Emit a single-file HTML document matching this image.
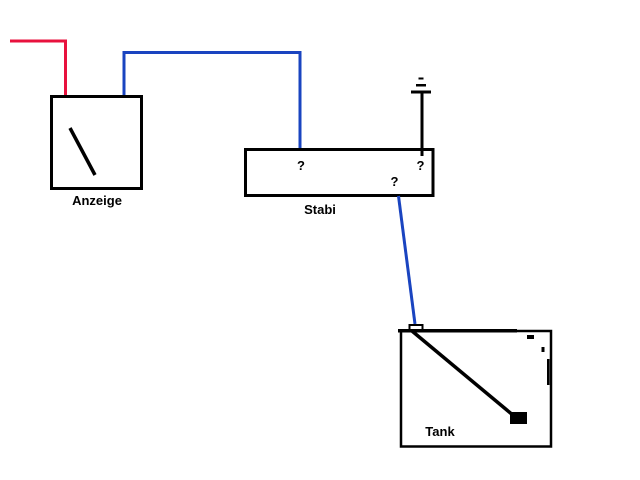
<!DOCTYPE html>
<html><head><meta charset="utf-8"><style>
html,body{margin:0;padding:0;background:#fff;}
svg{display:block;}
text{font-family:"Liberation Sans",Arial,sans-serif;font-weight:bold;font-size:13px;fill:#000;}
</style></head><body>
<svg width="640" height="480" viewBox="0 0 640 480" xmlns="http://www.w3.org/2000/svg">
<rect width="640" height="480" fill="#fff"/>
<!-- red wire -->
<polyline points="10,41 65.5,41 65.5,95" fill="none" stroke="#e8123e" stroke-width="3"/>
<!-- blue wire top -->
<polyline points="124,95 124,52.5 300,52.5 300,148" fill="none" stroke="#1a44c0" stroke-width="3"/>
<!-- Anzeige box -->
<rect x="51.5" y="96.5" width="90" height="92" fill="none" stroke="#000" stroke-width="3"/>
<line x1="70" y1="128" x2="95" y2="175" stroke="#000" stroke-width="3.5"/>
<text x="97" y="205" text-anchor="middle">Anzeige</text>
<!-- Stabi box -->
<rect x="245.5" y="149.5" width="187.5" height="46" fill="none" stroke="#000" stroke-width="3"/>
<text x="301" y="170" text-anchor="middle">?</text>
<text x="420.5" y="170" text-anchor="middle">?</text>
<text x="394.5" y="186" text-anchor="middle">?</text>
<text x="320" y="214" text-anchor="middle">Stabi</text>
<!-- antenna / ground symbol -->
<line x1="422" y1="91" x2="422" y2="156" stroke="#000" stroke-width="3"/>
<rect x="411" y="90.5" width="20" height="3" fill="#000"/>
<rect x="416" y="84" width="10" height="2.5" fill="#000"/>
<rect x="418.5" y="77.5" width="5" height="2" fill="#000"/>
<!-- blue wire to tank -->
<line x1="398.5" y1="196" x2="415" y2="324" stroke="#1a44c0" stroke-width="3"/>
<!-- Tank -->
<rect x="401" y="331" width="150" height="115.5" fill="none" stroke="#000" stroke-width="2.5"/>
<rect x="398" y="329" width="119" height="3.5" fill="#000"/>
<rect x="409.5" y="325" width="13" height="6" fill="none" stroke="#000" stroke-width="2"/>
<line x1="412" y1="331" x2="514" y2="416" stroke="#000" stroke-width="3.5"/>
<rect x="510" y="412" width="17" height="12" fill="#000"/>
<rect x="527" y="335" width="7" height="4" fill="#000"/>
<rect x="541.5" y="347" width="3" height="5" fill="#000"/>
<rect x="547" y="359" width="2.5" height="26" fill="#000"/>
<text x="440" y="436" text-anchor="middle">Tank</text>
</svg>
</body></html>
